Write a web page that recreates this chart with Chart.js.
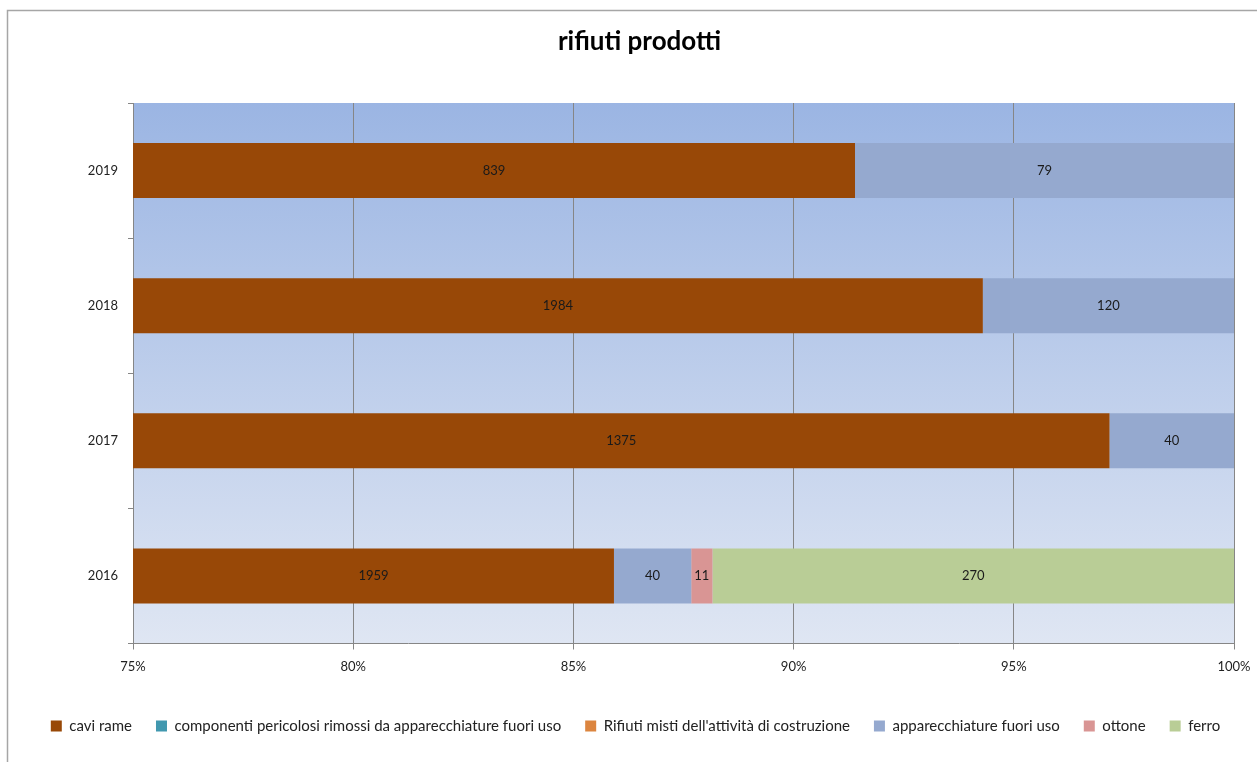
<!DOCTYPE html>
<html>
<head>
<meta charset="utf-8">
<script src="https://cdn.jsdelivr.net/npm/chart.js@4/dist/chart.umd.min.js"></script>
<style>
  html, body { margin: 0; padding: 0; background: #fff; }
  #wrap { width: 1257px; height: 762px; position: relative; }
</style>
</head>
<body>
<div id="wrap"><canvas id="c" width="1257" height="762"></canvas></div>
<script>
const categories = ['2019', '2018', '2017', '2016'];
const caviRame = [839, 1984, 1375, 1959];
const componentiPericolosi = [0, 0, 0, 0];
const rifiutiMisti = [0, 0, 0, 0];
const apparecchiature = [79, 120, 40, 40];
const ottone = [0, 0, 0, 11];
const ferro = [0, 0, 0, 270];
const xTicks = [75, 80, 85, 90, 95, 100];

const seriesNames = ['cavi rame', 'componenti pericolosi rimossi da apparecchiature fuori uso', "Rifiuti misti dell'attività di costruzione", 'apparecchiature fuori uso', 'ottone', 'ferro'];
const seriesValues = [caviRame, componentiPericolosi, rifiutiMisti, apparecchiature, ottone, ferro];
const seriesColors = ['#984807', '#4198af', '#dc853f', '#95a9cf', '#d99594', '#b9cd96'];

const totals = categories.map((_, i) => seriesValues.reduce((s, arr) => s + arr[i], 0));
const datasets = seriesNames.map((name, k) => ({
  label: name,
  data: seriesValues[k].map((v, i) => v / totals[i] * 100),
  rawValues: seriesValues[k],
  backgroundColor: seriesColors[k],
  borderWidth: 0,
  categoryPercentage: 1,
  barPercentage: 0.407
}));

const FONT = 'Lato, "Open Sans", sans-serif';

const bgPlugin = {
  id: 'bg',
  afterLayout(chart) {
    if (chart.legend) { chart.legend.left += 15; chart.legend.right += 15; }
    if (chart.titleBlock) { chart.titleBlock.left += 19; chart.titleBlock.right += 19; }
  },
  beforeDraw(chart) {
    const { ctx, chartArea: a } = chart;
    ctx.save();
    ctx.strokeStyle = '#a6a6a6';
    ctx.lineWidth = 1.5;
    ctx.beginPath();
    ctx.moveTo(7.5, 770);
    ctx.lineTo(7.5, 10.5);
    ctx.lineTo(1270, 10.5);
    ctx.stroke();
    const g = ctx.createLinearGradient(0, a.top, 0, a.bottom);
    g.addColorStop(0, '#9bb5e3');
    g.addColorStop(1, '#dfe6f3');
    ctx.fillStyle = g;
    ctx.fillRect(a.left, a.top, a.right - a.left, a.bottom - a.top);
    ctx.restore();
  }
};

const labelPlugin = {
  id: 'vals',
  afterDatasetsDraw(chart) {
    const { ctx, chartArea: a } = chart;
    ctx.save();
    ctx.font = '13px ' + FONT;
    ctx.fillStyle = '#1a1a1a';
    ctx.textAlign = 'center';
    ctx.textBaseline = 'middle';
    chart.data.datasets.forEach((ds, di) => {
      const meta = chart.getDatasetMeta(di);
      if (meta.hidden) return;
      meta.data.forEach((el, i) => {
        const raw = ds.rawValues[i];
        if (!raw) return;
        const l = Math.max(Math.min(el.base, el.x), a.left);
        const r = Math.min(Math.max(el.base, el.x), a.right);
        if (r - l < 4) return;
        ctx.fillText(String(raw), (l + r) / 2, el.y);
      });
    });
    ctx.restore();
  }
};

new Chart(document.getElementById('c'), {
  type: 'bar',
  data: { labels: categories, datasets },
  options: {
    indexAxis: 'y',
    responsive: false,
    animation: false,
    events: [],
    layout: { padding: { left: 7, right: 23, top: 10, bottom: 18.5 } },
    plugins: {
      title: {
        display: true,
        text: 'rifiuti prodotti',
        color: '#000',
        font: { family: FONT, size: 26, weight: 'bold' },
        padding: { top: 16.4, bottom: 45.4 }
      },
      legend: {
        position: 'bottom',
        labels: {
          color: '#222',
          font: { family: FONT, size: 15 },
          boxWidth: 11,
          boxHeight: 11,
          padding: 24,
          generateLabels(chart) {
            return chart.data.datasets.map((ds, i) => ({
              text: ds.label,
              fillStyle: ds.backgroundColor,
              strokeStyle: ds.backgroundColor,
              lineWidth: 0,
              hidden: false,
              datasetIndex: i,
              fontColor: '#222'
            }));
          }
        }
      },
      tooltip: { enabled: false }
    },
    scales: {
      x: {
        stacked: true,
        min: 75,
        max: 100,
        afterBuildTicks(scale) { scale.ticks = xTicks.map(v => ({ value: v })); },
        afterFit(scale) { scale.height = 51; scale.paddingRight = 0; scale.paddingLeft = 0; },
        ticks: {
          callback: v => v + '%',
          color: '#222',
          font: { family: FONT, size: 13 },
          padding: 10,
          maxRotation: 0
        },
        grid: { color: '#868686', lineWidth: 1, tickLength: 6 },
        border: { color: '#868686', width: 1 }
      },
      y: {
        stacked: true,
        afterFit(scale) { scale.width = 126; },
        ticks: {
          color: '#222',
          font: { family: FONT, size: 13 },
          padding: 10
        },
        grid: { display: true, drawOnChartArea: false, drawTicks: true, tickLength: 5, color: '#868686', offset: true },
        border: { color: '#868686', width: 1 }
      }
    }
  },
  plugins: [bgPlugin, labelPlugin]
});
</script>
</body>
</html>
